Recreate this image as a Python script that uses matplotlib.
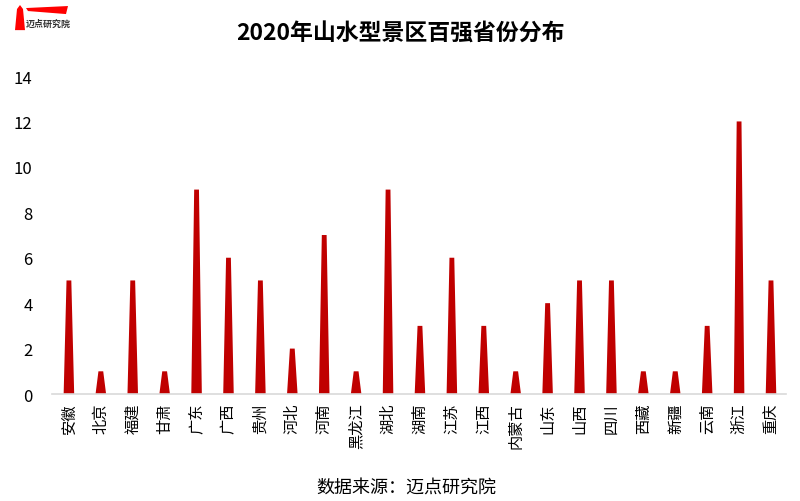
import matplotlib
matplotlib.use("Agg")
import matplotlib.pyplot as plt
from matplotlib.patches import Polygon

plt.rcParams['font.family'] = ['Noto Sans CJK SC', 'DejaVu Sans']

provinces = ["安徽", "北京", "福建", "甘肃", "广东", "广西", "贵州", "河北", "河南", "黑龙江",
             "湖北", "湖南", "江苏", "江西", "内蒙古", "山东", "山西", "四川", "西藏", "新疆",
             "云南", "浙江", "重庆"]
counts = [5, 1, 5, 1, 9, 6, 5, 2, 7, 1, 9, 3, 6, 3, 1, 4, 5, 5, 1, 1, 3, 12, 5]
yticks = [0, 2, 4, 6, 8, 10, 12, 14]

title = "2020年山水型景区百强省份分布"
source = "数据来源：迈点研究院"

bar_color = "#C00000"

fig = plt.figure(figsize=(8, 5.02), dpi=100)
ax = fig.add_axes([0.065, 0.2131, 0.9175, 0.6335])

base_w = 0.33
top_w = 0.15
for i, v in enumerate(counts):
    verts = [(i - base_w / 2, 0), (i - top_w / 2, v), (i + top_w / 2, v), (i + base_w / 2, 0)]
    ax.add_patch(Polygon(verts, closed=True, facecolor=bar_color, edgecolor="none"))

ax.set_xlim(-0.53, len(provinces) - 0.53)
ax.set_ylim(0, 14)
ax.set_yticks(yticks)
ax.set_yticklabels([str(t) for t in yticks], fontsize=12, color="#000000")
ax.set_xticks(range(len(provinces)))
ax.set_xticklabels(provinces, rotation=90, fontsize=11, color="#000000")
ax.tick_params(axis='both', length=0)
ax.tick_params(axis='y', pad=14)
ax.tick_params(axis='x', pad=6)
for s in ["top", "right", "left"]:
    ax.spines[s].set_visible(False)
ax.spines["bottom"].set_color("#D9D9D9")
ax.spines["bottom"].set_linewidth(1.2)

fig.text(0.5, 0.934, title, ha="center", va="center", fontsize=16.5, fontweight="bold")
fig.text(0.508, 0.028, source, ha="center", va="center", fontsize=13)

# logo
lax = fig.add_axes([0, 0.92, 0.1, 0.08])
lax.set_xlim(0, 80)
lax.set_ylim(40, 0)
lax.axis("off")
lax.add_patch(Polygon([(15, 31), (17, 10), (20, 6), (23, 10), (25, 31)], closed=True,
                      facecolor="#FF0000", edgecolor="none"))
lax.add_patch(Polygon([(26, 9), (68, 7), (66, 15), (28, 12)], closed=True,
                      facecolor="#FF0000", edgecolor="none"))
lax.text(26, 24, "迈点研究院", fontsize=6.5, fontweight="bold", color="#333333", va="center")

fig.savefig("out.png", dpi=100)
